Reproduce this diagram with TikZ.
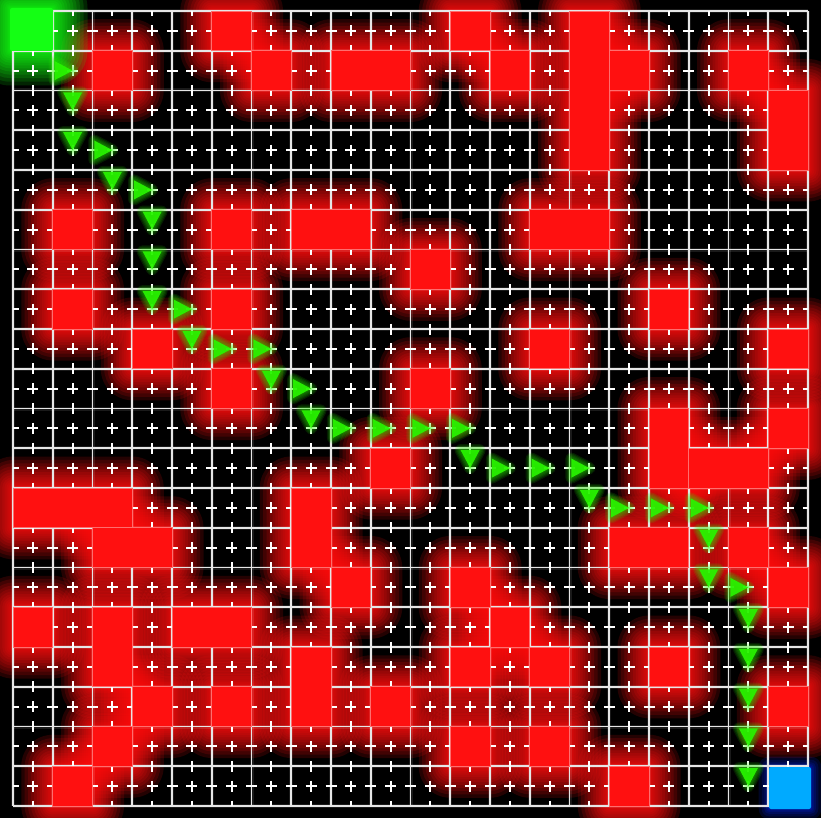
\documentclass[tikz,border=0pt]{standalone}
\usetikzlibrary{calc}
\definecolor{obst}{RGB}{255,16,16}
\definecolor{obstedge}{RGB}{255,110,110}
\definecolor{startg}{RGB}{20,255,20}
\definecolor{goalb}{RGB}{0,170,255}
\definecolor{goalglow}{RGB}{0,40,255}
\definecolor{pathg}{RGB}{40,245,0}
\definecolor{gridc}{RGB}{230,230,230}
\newcommand\obstlist{5/0/5/0, 11/0/11/0, 14/0/14/3, 15/1/15/1, 2/1/2/1, 6/1/6/1, 8/1/9/1, 12/1/12/1, 18/1/18/1, 19/2/19/3, 1/5/1/5, 5/5/5/5, 7/5/8/5, 13/5/14/5, 10/6/10/6, 1/7/1/7, 5/7/5/7, 16/7/16/7, 3/8/3/8, 13/8/13/8, 19/8/19/8, 5/9/5/9, 10/9/10/9, 16/10/16/11, 19/10/19/10, 9/11/9/11, 17/11/18/11, 0/12/2/12, 7/12/7/13, 2/13/3/13, 15/13/16/13, 18/13/18/13, 8/14/8/14, 11/14/11/14, 19/14/19/14, 0/15/0/15, 2/15/2/16, 4/15/5/15, 12/15/12/15, 7/16/7/17, 11/16/11/16, 13/16/13/16, 16/16/16/16, 3/17/3/17, 5/17/5/17, 9/17/9/17, 19/17/19/17, 2/18/2/18, 11/18/11/18, 13/18/13/18, 1/19/1/19, 15/19/15/19}
\newcommand\pathlist{1/1/0, 1/2/-90, 1/3/-90, 2/3/0, 2/4/-90, 3/4/0, 3/5/-90, 3/6/-90, 3/7/-90, 4/7/0, 4/8/-90, 5/8/0, 6/8/0, 6/9/-90, 7/9/0, 7/10/-90, 8/10/0, 9/10/0, 10/10/0, 11/10/0, 11/11/-90, 12/11/0, 13/11/0, 14/11/0, 14/12/-90, 15/12/0, 16/12/0, 17/12/0, 17/13/-90, 17/14/-90, 18/14/0, 18/15/-90, 18/16/-90, 18/17/-90, 18/18/-90, 18/19/-90}
\tikzset{
  gridline/.style={draw=gridc, line width=1.6pt},
  gridglow/.style={draw=white, line width=4pt, opacity=0.10},
  midline/.style={draw=white, line width=2.1pt, dash pattern=on 11pt off 8.875pt, dash phase=5.5pt},
  obstfill/.style={fill=obst, draw=obstedge, line width=0.7pt},
  arrowtri/.style={fill=pathg, fill opacity=0.93},
}
\begin{document}
\begin{tikzpicture}[x=1pt,y=-1pt]
\useasboundingbox (0,0) rectangle (821,818);
\clip (0,0) rectangle (821,818);
\fill[black] (0,0) rectangle (821,818);
% obstacle glow (dense near the edge, long soft tail)
\foreach \a/\b/\c/\d in \obstlist {
  \pgfmathsetmacro\xa{13+39.75*\a}
  \pgfmathsetmacro\ya{11+39.75*\b}
  \pgfmathsetmacro\xb{13+39.75*(\c+1)}
  \pgfmathsetmacro\yb{11+39.75*(\d+1)}
  \foreach \k in {1,...,14} {
    \pgfmathsetmacro\rr{31*(\k/14)^1.6+0.5}
    \fill[obst, opacity=0.14, rounded corners=\rr pt] (\xa-\rr,\ya-\rr) rectangle (\xb+\rr,\yb+\rr);
  }
}
% start glow
\foreach \k in {1,...,14} {
  \pgfmathsetmacro\rr{34*(\k/14)^1.6+0.5}
  \fill[startg, opacity=0.14, rounded corners=\rr pt] (10-\rr,8-\rr) rectangle (53+\rr,51+\rr);
}
% goal glow
\foreach \k in {1,...,6} {
  \pgfmathsetmacro\rr{10*(\k/6)^2+0.3}
  \fill[goalglow, opacity=0.14, rounded corners=\rr pt] (769-\rr,767-\rr) rectangle (811+\rr,809+\rr);
}
% grid
\foreach \i in {0,...,20} {
  \pgfmathsetmacro\p{13+39.75*\i}
  \pgfmathsetmacro\q{11+39.75*\i}
  \draw[gridglow] (\p,11) -- (\p,806);
  \draw[gridglow] (13,\q) -- (808,\q);
  \draw[gridline] (\p,11) -- (\p,806);
  \draw[gridline] (13,\q) -- (808,\q);
}
\foreach \i in {0,...,19} {
  \pgfmathsetmacro\p{13+39.75*(\i+0.5)}
  \pgfmathsetmacro\q{11+39.75*(\i+0.5)}
  \draw[midline] (\p,11) -- (\p,806);
  \draw[midline] (13,\q) -- (808,\q);
}
% obstacles
\foreach \a/\b/\c/\d in \obstlist {
  \pgfmathsetmacro\xa{13+39.75*\a}
  \pgfmathsetmacro\ya{11+39.75*\b}
  \pgfmathsetmacro\xb{13+39.75*(\c+1)}
  \pgfmathsetmacro\yb{11+39.75*(\d+1)}
  \path[obstfill] (\xa,\ya) rectangle (\xb,\yb);
}
% start and goal
\fill[startg, rounded corners=2pt] (10,8) rectangle (53,51);
\fill[goalb, rounded corners=2pt] (769,767) rectangle (811,809);
% path arrows
\foreach \c/\r/\ang in \pathlist {
  \pgfmathsetmacro\cx{13+39.75*(\c+0.5)}
  \pgfmathsetmacro\cy{11+39.75*(\r+0.5)}
  \begin{scope}[shift={(\cx,\cy)}, rotate=\ang]
    \foreach \k in {1,...,5} {
      \pgfmathsetmacro\ww{\k*2.4}
      \draw[pathg, opacity=0.12, line width=\ww pt, line join=round] (0,0) -- (-18,-9.5) -- (-18,9.5) -- cycle;
    }
    \path[arrowtri] (0,0) -- (-18,-9.5) -- (-18,9.5) -- cycle;
  \end{scope}
}
\end{tikzpicture}
\end{document}
